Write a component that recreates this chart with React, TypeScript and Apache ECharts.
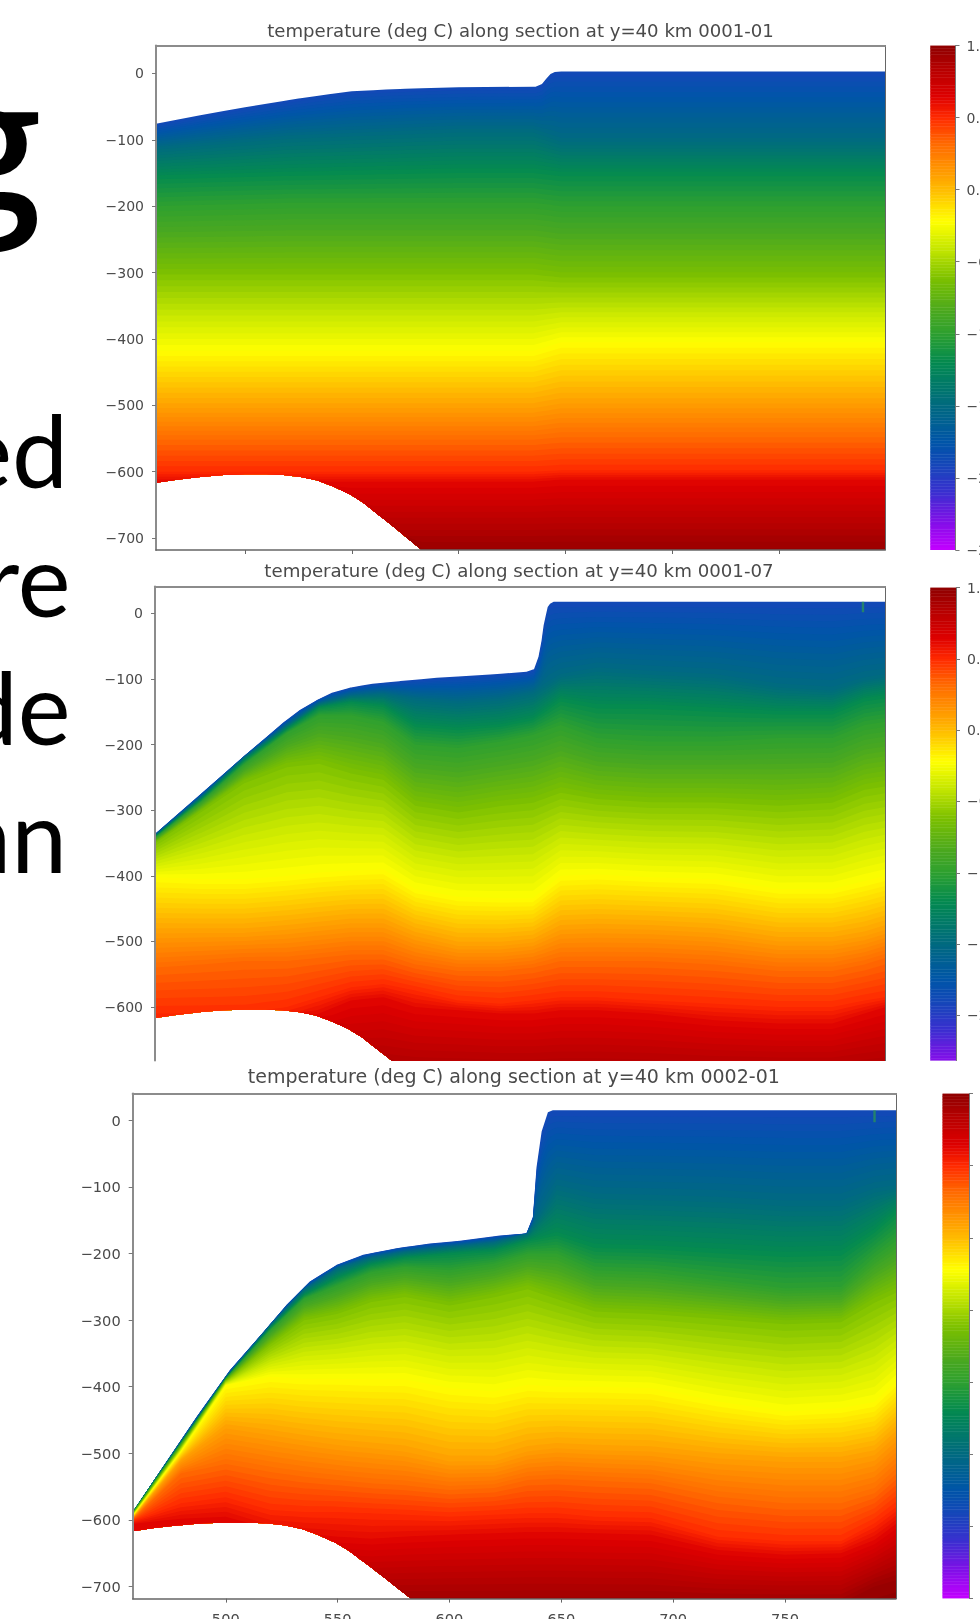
import React, { useEffect, useRef } from "react";
import * as echarts from "echarts";

const chartTitles = [
  "temperature (deg C) along section at y=40 km 0001-01",
  "temperature (deg C) along section at y=40 km 0001-07",
  "temperature (deg C) along section at y=40 km 0002-01",
];
const depthTicks = [0, -100, -200, -300, -400, -500, -600, -700];
const distanceTicks = [500, 550, 600, 650, 700, 750];
const colorbarTicks = [1, 0.5, 0, -0.5, -1, -1.5, -2, -2.5];
const slideFragments = ["ed", "re", "de", "an"];

// colour scale: temperature, colour
const scaleTemps = [1, 0.85, 0.65, 0.5, 0.32, 0.1, 0, -0.22, -0.4, -0.62, -0.85, -1, -1.2, -1.5, -1.75, -1.9, -2.1, -2.3, -2.5];
const scaleColors = ["#8f0000", "#b40000", "#dd0000", "#ff2a00", "#ff6a00", "#ffa000", "#ffbc00", "#ffff00", "#c8e800", "#7cc000", "#4aa820", "#2ea030", "#048a50", "#006a80", "#0055a8", "#1448b8", "#3a30d0", "#8010e8", "#c400ff"];

// sea floor (shared by all three sections)
const floorX = [458, 468, 479, 490, 500, 510, 518, 526, 533.5, 541, 549, 555, 560, 566, 572.5, 582.7, 600, 800];
const floorDepth = [-617, -612, -608, -605, -604, -604, -605, -608, -613, -622, -634, -646, -659, -674, -691, -718, -760, -760];

// ice base per section
const surface1X = [458, 479, 500, 525, 540, 550, 562, 575, 600, 636, 639, 641, 643, 645, 648, 800];
const surface1 = [-76, -63, -51, -38, -31, -27, -25, -23, -21, -20, -16, -8, -1, 2, 3, 3];
const surface2X = [458, 479.4, 500.4, 518.4, 526, 534, 541, 549.6, 560, 573, 590, 615, 632, 635.5, 637.6, 639, 640, 641, 641.9, 643, 644.7, 647, 800];
const surface2 = [-337, -276, -216, -166, -147, -132, -121, -113, -107, -103, -98, -93, -89, -85, -66, -42, -18, -3, 10, 15, 18, 18, 18];
const surface3X = [458.4, 472, 487, 501.9, 516.8, 527.2, 537.6, 549.6, 561.4, 576.4, 591.2, 604.6, 622.5, 634.4, 637.3, 638.9, 641.2, 644, 646.2, 800];
const surface3 = [-588, -520, -445, -375, -318, -277, -242, -217, -202, -192, -185, -181, -173, -170, -145, -71, -17, 12, 15, 15];

// isotherm depths: one row per temperature in isothermTemps, one value per column
const isothermTemps = [-1.5, -1.2, -1, -0.62, -0.22, 0.1, 0.32, 0.5, 0.62, 0.95, 1];

const columns1 = [458, 520, 600, 635, 648, 800];
const isotherms1 = [
  [-112, -95, -85, -85, -100, -100],
  [-155, -150, -145, -145, -150, -150],
  [-200, -195, -195, -195, -200, -200],
  [-300, -300, -300, -300, -305, -305],
  [-418, -418, -418, -418, -405, -405],
  [-502, -502, -502, -502, -495, -495],
  [-552, -552, -552, -552, -548, -548],
  [-600, -600, -600, -600, -598, -598],
  [-615, -615, -615, -615, -612, -612],
  [-715, -715, -715, -715, -715, -715],
  [-745, -745, -745, -745, -745, -745],
];

const columns2 = [458, 480, 500, 520, 535, 550, 565, 580, 600, 620, 635, 648, 665, 690, 720, 750, 775, 790, 800];
const isotherms2 = [
  [-339, -279, -219, -170, -137, -125, -122, -130, -135, -130, -120, -95, -85, -90, -95, -110, -115, -100, -95],
  [-341, -283, -224, -176, -143, -135, -140, -170, -175, -170, -160, -130, -140, -140, -145, -150, -150, -130, -125],
  [-343, -287, -230, -182, -155, -155, -165, -200, -205, -195, -185, -170, -190, -195, -195, -190, -190, -170, -165],
  [-350, -300, -255, -230, -225, -240, -250, -290, -300, -290, -285, -270, -280, -285, -285, -290, -285, -265, -260],
  [-402, -405, -405, -400, -395, -392, -390, -420, -432, -434, -434, -400, -398, -402, -405, -420, -420, -408, -400],
  [-485, -485, -485, -480, -475, -470, -470, -490, -505, -505, -500, -480, -478, -480, -485, -498, -498, -490, -480],
  [-540, -535, -530, -530, -525, -520, -520, -535, -545, -545, -540, -530, -530, -530, -535, -545, -545, -535, -525],
  [-610, -610, -610, -600, -585, -570, -565, -575, -590, -595, -590, -585, -585, -590, -595, -600, -600, -590, -585],
  [-640, -640, -640, -625, -610, -590, -585, -600, -605, -610, -610, -605, -605, -610, -620, -625, -625, -610, -600],
  [-720, -720, -720, -720, -720, -720, -720, -720, -720, -720, -720, -720, -720, -720, -720, -720, -720, -720, -720],
  [-750, -750, -750, -750, -750, -750, -750, -750, -750, -750, -750, -750, -750, -750, -750, -750, -750, -750, -750],
];

const columns3 = [458, 480, 500, 520, 535, 550, 565, 580, 600, 620, 635, 648, 665, 690, 720, 750, 775, 790, 800];
const isotherms3 = [
  [-589, -482, -386, -307, -254, -222, -206, -197, -190, -183, -170, -100, -113, -115, -118, -124, -124, -105, -100],
  [-590, -484, -387, -311, -262, -236, -216, -206, -200, -195, -180, -170, -188, -190, -195, -200, -198, -165, -135],
  [-591, -485, -388, -315, -268, -248, -228, -220, -225, -215, -200, -200, -225, -228, -240, -252, -250, -205, -180],
  [-593, -490, -391, -335, -298, -288, -270, -262, -275, -262, -250, -265, -284, -288, -295, -303, -300, -270, -255],
  [-596, -497, -398, -385, -388, -388, -389, -389, -402, -407, -397, -400, -400, -402, -422, -437, -432, -423, -391],
  [-599, -510, -460, -470, -478, -485, -490, -495, -510, -510, -495, -490, -493, -495, -505, -510, -510, -500, -470],
  [-600, -530, -516, -528, -535, -540, -545, -548, -555, -552, -540, -538, -541, -545, -565, -575, -575, -560, -530],
  [-602, -575, -566, -585, -588, -588, -590, -592, -595, -592, -590, -590, -595, -597, -625, -632, -632, -605, -580],
  [-606, -598, -595, -615, -620, -625, -628, -625, -622, -620, -618, -618, -620, -622, -645, -652, -650, -630, -605],
  [-725, -725, -725, -725, -725, -725, -725, -725, -725, -725, -725, -725, -725, -725, -725, -725, -725, -700, -690],
  [-755, -755, -755, -755, -755, -755, -755, -755, -755, -755, -755, -755, -755, -755, -755, -755, -755, -730, -720],
];

// small green streak near the top right of the later sections
const streak2 = [[789.3, 18], [789.3, 2]];
const streak3 = [[790, 15], [790, -3]];

const lerp = (xs: number[], ys: number[], x: number) => {
  if (x <= xs[0]) return ys[0];
  for (let i = 1; i < xs.length; i++) {
    if (x <= xs[i]) return ys[i - 1] + ((ys[i] - ys[i - 1]) * (x - xs[i - 1])) / (xs[i] - xs[i - 1]);
  }
  return ys[ys.length - 1];
};
const hexRgb = (h: string) => [1, 3, 5].map((i) => parseInt(h.slice(i, i + 2), 16));
const colorFor = (t: number) => {
  for (let i = 1; i < scaleTemps.length; i++) {
    if (t >= scaleTemps[i]) {
      const f = (t - scaleTemps[i]) / (scaleTemps[i - 1] - scaleTemps[i]);
      const a = hexRgb(scaleColors[i]);
      const b = hexRgb(scaleColors[i - 1]);
      return `rgb(${a.map((v, k) => Math.round(v + (b[k] - v) * f)).join(",")})`;
    }
  }
  return scaleColors[scaleColors.length - 1];
};

const BAND_STEP = 0.03;
const bandLevels: number[] = [];
for (let k = 0; k < 97; k++) bandLevels.push(-1.9 + k * BAND_STEP);
const colorbarLevels: number[] = [];
for (let k = 0; k < 175; k++) colorbarLevels.push(-2.5 + k * 0.02);

const panels = [
  { left: 156, right: 885, top: 45.5, bottom: 550, xMin: 458.3, xMax: 799.6, yMin: -718, yMax: 42, surfaceX: surface1X, surface: surface1, columns: columns1, iso: isotherms1, titleX: 520.5, titleY: 33, titleSize: 18.1, tickSize: 14, bar: [930.5, 955.5], barMin: -2.5, barTop: 45.5, barBottom: 550, xTicks: true, xLabels: false, bottomLine: true, barLabels: true, streak: null as number[][] | null },
  { left: 155, right: 885, top: 586.6, bottom: 1060.6, xMin: 458.3, xMax: 799.6, yMin: -681.7, yMax: 41, surfaceX: surface2X, surface: surface2, columns: columns2, iso: isotherms2, titleX: 519, titleY: 573, titleSize: 18.2, tickSize: 14, bar: [930.5, 956], barMin: -2.317, barTop: 587.6, barBottom: 1060.6, xTicks: false, xLabels: false, bottomLine: false, barLabels: true, streak: streak2 },
  { left: 132.7, right: 896, top: 1093.6, bottom: 1598.6, xMin: 458.4, xMax: 799.6, yMin: -718, yMax: 40, surfaceX: surface3X, surface: surface3, columns: columns3, iso: isotherms3, titleX: 513.8, titleY: 1078, titleSize: 19, tickSize: 14.6, bar: [942.7, 969], barMin: -2.5, barTop: 1093.6, barBottom: 1598.6, xTicks: true, xLabels: true, bottomLine: true, barLabels: false, streak: streak3 },
];

const INK = "#4a4a4a";
const font = "DejaVu Sans";
const minus = (v: number | string) => String(v).replace("-", "\u2212");

function buildOption() {
  const grid: any[] = [];
  const xAxis: any[] = [];
  const yAxis: any[] = [];
  const series: any[] = [];
  const title: any[] = [];

  panels.forEach((p) => {
    const g = grid.length;
    grid.push({ left: p.left, top: p.top, width: p.right - p.left, height: p.bottom - p.top, outerBoundsMode: "none" });
    const xB = xAxis.length;
    xAxis.push({
      type: "value", gridIndex: g, min: p.xMin, max: p.xMax, position: "bottom", z: 5, splitLine: { show: false },
      axisLine: { show: p.bottomLine, onZero: false, lineStyle: { color: "#666", width: 1.5 } },
      axisTick: { show: p.xTicks, customValues: distanceTicks, length: 4, lineStyle: { color: "#666" } },
      axisLabel: { show: p.xLabels, customValues: distanceTicks, color: INK, fontFamily: font, fontSize: p.tickSize, margin: 12 },
    });
    xAxis.push({
      type: "value", gridIndex: g, min: p.xMin, max: p.xMax, position: "top", z: 5, splitLine: { show: false },
      axisLine: { show: true, onZero: false, lineStyle: { color: "#8c8c8c", width: 2 } }, axisTick: { show: false }, axisLabel: { show: false },
    });
    const yL = yAxis.length;
    yAxis.push({
      type: "value", gridIndex: g, min: p.yMin, max: p.yMax, position: "left", z: 5, splitLine: { show: false },
      axisLine: { show: true, onZero: false, lineStyle: { color: "#8c8c8c", width: 2 } },
      axisTick: { show: true, customValues: depthTicks.filter((d) => d >= p.yMin), length: 4, lineStyle: { color: "#777" } },
      axisLabel: { customValues: depthTicks.filter((d) => d >= p.yMin), color: INK, fontFamily: font, fontSize: p.tickSize, margin: 12, formatter: minus },
    });
    yAxis.push({
      type: "value", gridIndex: g, min: p.yMin, max: p.yMax, position: "right", z: 5, splitLine: { show: false },
      axisLine: { show: true, onZero: false, lineStyle: { color: "#666", width: 1 } }, axisTick: { show: false }, axisLabel: { show: false },
    });

    const allX = Array.from(new Set([...p.surfaceX, ...floorX, ...p.columns, p.xMin, p.xMax]))
      .filter((x) => x >= p.xMin - 0.01 && x <= p.xMax + 0.01)
      .sort((a, b) => a - b);
    const isoAt = (t: number, x: number) => {
      const top = lerp(p.surfaceX, p.surface, x);
      const rowT = [-1.9, ...isothermTemps];
      const rows = [null, ...p.iso];
      let d = top;
      for (let i = 1; i < rowT.length; i++) {
        if (t <= rowT[i]) {
          const a = i === 1 ? top : lerp(p.columns, rows[i - 1] as number[], x);
          const b = lerp(p.columns, rows[i] as number[], x);
          d = a + ((b - a) * (t - rowT[i - 1])) / (rowT[i] - rowT[i - 1]);
          return Math.max(lerp(floorX, floorDepth, x), Math.min(top, d));
        }
      }
      return d;
    };
    series.push({
      type: "custom", xAxisIndex: xB, yAxisIndex: yL, clip: true, silent: true, z: 2,
      data: bandLevels.map((t) => [t]),
      renderItem: (params: any, api: any) => {
        const t = bandLevels[params.dataIndex];
        const upper = allX.map((x) => api.coord([x, isoAt(t, x)]));
        const lower = allX.slice().reverse().map((x) => api.coord([x, lerp(floorX, floorDepth, x)]));
        return { type: "polygon", shape: { points: [...upper, ...lower] }, style: { fill: colorFor(t + BAND_STEP / 2) } };
      },
    });
    if (p.streak) {
      series.push({
        type: "line", xAxisIndex: xB, yAxisIndex: yL, data: p.streak, symbol: "none", silent: true, z: 3,
        lineStyle: { color: "#2c9a50", width: 2.4, opacity: 0.7 },
      });
    }

    // colour bar
    const gb = grid.length;
    grid.push({ left: p.bar[0], top: p.barTop, width: p.bar[1] - p.bar[0], height: p.barBottom - p.barTop, outerBoundsMode: "none" });
    const xb = xAxis.length;
    xAxis.push({ type: "value", gridIndex: gb, min: 0, max: 1, show: false });
    const yb = yAxis.length;
    const ticks = colorbarTicks.filter((v) => v >= p.barMin);
    yAxis.push({
      type: "value", gridIndex: gb, min: p.barMin, max: 1, position: "right", z: 5, splitLine: { show: false },
      axisLine: { show: true, onZero: false, lineStyle: { color: "#777", width: 1 } },
      axisTick: { show: true, customValues: ticks, length: 4, lineStyle: { color: "#777" } },
      axisLabel: { show: p.barLabels, customValues: ticks, color: INK, fontFamily: font, fontSize: p.tickSize, margin: 11, formatter: (v: number) => minus(v.toFixed(1)) },
    });
    series.push({
      type: "custom", xAxisIndex: xb, yAxisIndex: yb, clip: true, silent: true, z: 2,
      data: colorbarLevels.map((t) => [t]),
      renderItem: (params: any, api: any) => {
        const t = colorbarLevels[params.dataIndex];
        const a = api.coord([0, t + 0.02]);
        const b = api.coord([1, t]);
        const fill = colorFor(t + 0.01);
        return { type: "rect", shape: { x: a[0], y: a[1], width: b[0] - a[0], height: b[1] - a[1] }, style: { fill, stroke: fill, lineWidth: 0.5 } };
      },
    });
  });

  chartTitles.forEach((text, i) => {
    const p = panels[i];
    title.push({
      text, left: p.titleX, top: p.titleY - p.titleSize * 0.62, textAlign: "center", padding: 0,
      textStyle: { color: INK, fontFamily: font, fontSize: p.titleSize, fontWeight: "normal" },
    });
  });

  const graphic: any[] = [
    { type: "text", x: 41, y: 50, style: { text: "g", font: "600 180px 'Open Sans'", fill: "#000", align: "right", verticalAlign: "top" } },
  ];
  const fragmentBaselines = [499, 628, 756, 884];
  const fragmentRights = [68, 70.5, 70.5, 67];
  slideFragments.forEach((text, i) => {
    graphic.push({
      type: "text", x: fragmentRights[i], y: fragmentBaselines[i], z: 1,
      style: { text, font: "100px Lato", fill: "#000", align: "right", verticalAlign: "bottom" },
    });
  });

  return { animation: false, backgroundColor: "#fff", grid, xAxis, yAxis, series, title, graphic };
}

export default function App() {
  const ref = useRef<HTMLDivElement>(null);
  useEffect(() => {
    const chart = echarts.init(ref.current!, undefined, { renderer: "svg" });
    chart.setOption(buildOption() as any);
    return () => chart.dispose();
  }, []);
  return <div ref={ref} style={{ position: "absolute", left: 0, top: 0, width: 980, height: 1619, overflow: "hidden", filter: "blur(0.7px)" }} />;
}
